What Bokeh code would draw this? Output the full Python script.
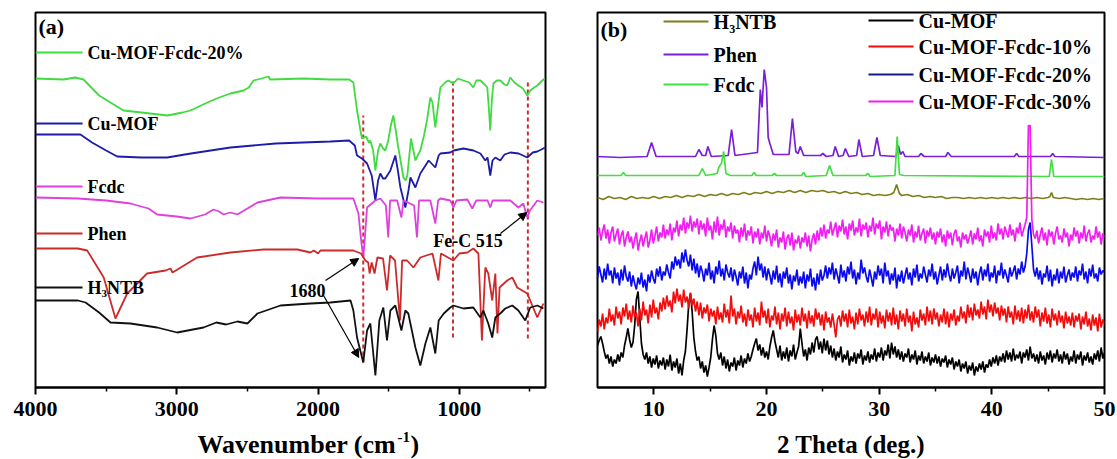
from bokeh.plotting import figure
from bokeh.layouts import row, column
from bokeh.models import Range1d, FixedTicker, Label, Arrow, NormalHead
from bokeh.embed import file_html
from bokeh.resources import INLINE

SERIF = "Liberation Serif"

# ---------------- (a) FT-IR spectra: (wavenumber cm-1, offset transmittance a.u.) ----------------
ftir_fcdc20 = [(4000, 309), (3800, 308), (3720, 310), (3660, 308), (3550, 292), (3377, 277), (3250, 275),
               (3066, 272), (2960, 275), (2903, 277), (2783, 285), (2700, 290), (2620, 294), (2528, 297),
               (2490, 300), (2457, 307), (2400, 309), (2351, 311), (2340, 308), (2100, 309), (1913, 308),
               (1780, 308), (1750, 305), (1724, 277), (1700, 257), (1689, 249), (1660, 251), (1640, 245),
               (1630, 247), (1610, 237), (1594, 217), (1575, 237), (1559, 244), (1540, 239), (1524, 237),
               (1503, 247), (1485, 262), (1467, 272), (1450, 257), (1432, 240), (1410, 222), (1396, 210),
               (1380, 207), (1368, 212), (1342, 249), (1325, 237), (1311, 227), (1295, 232), (1276, 237),
               (1250, 252), (1229, 267), (1205, 290), (1190, 285), (1170, 260), (1155, 277), (1134, 300),
               (1100, 305), (1078, 307), (1042, 304), (1010, 309), (971, 307), (930, 305), (901, 300),
               (880, 307), (851, 307), (820, 303), (802, 300), (790, 277), (781, 257), (770, 287),
               (759, 304), (735, 307), (710, 307), (680, 303), (661, 302), (639, 310), (610, 305),
               (582, 302), (550, 299), (519, 292), (498, 297), (470, 300), (448, 302), (413, 307), (395, 309)]

ftir_cumof = [(4000, 253), (3720, 253), (3682, 253), (3600, 245), (3500, 237), (3422, 231), (3250, 230),
              (3068, 230), (2900, 234), (2620, 240), (2300, 244), (1913, 246), (1780, 247), (1740, 242),
              (1724, 232), (1689, 229), (1653, 224), (1620, 212), (1594, 187), (1575, 207), (1559, 214),
              (1540, 209), (1524, 209), (1488, 217), (1453, 232), (1435, 217), (1417, 200), (1382, 180),
              (1360, 197), (1346, 210), (1311, 200), (1276, 214), (1217, 227), (1190, 223), (1170, 220),
              (1146, 232), (1134, 234), (1064, 235), (1040, 237), (971, 239), (900, 237), (851, 234),
              (816, 227), (800, 230), (781, 212), (765, 227), (745, 230), (710, 227), (680, 233),
              (639, 235), (580, 234), (519, 230), (480, 235), (448, 236), (405, 239), (395, 240)]

ftir_fcdc = [(4000, 190), (3700, 189), (3500, 187), (3328, 184), (3200, 179), (3139, 173), (3000, 171),
             (2903, 169), (2800, 173), (2740, 178), (2700, 176), (2670, 173), (2620, 175), (2571, 173),
             (2500, 179), (2429, 185), (2266, 190), (2000, 189), (1750, 189), (1714, 174), (1695, 147),
             (1680, 130), (1670, 147), (1653, 180), (1594, 187), (1559, 189), (1520, 182), (1503, 150),
             (1490, 187), (1440, 187), (1410, 170), (1395, 187), (1320, 182), (1300, 150), (1285, 187),
             (1205, 187), (1170, 164), (1150, 187), (1134, 189), (1064, 187), (1042, 180), (1020, 187),
             (943, 188), (908, 179), (880, 187), (800, 187), (781, 180), (765, 187), (639, 187),
             (582, 180), (547, 184), (519, 170), (500, 177), (484, 180), (448, 187), (405, 185)]

ftir_phen = [(4000, 139), (3700, 139), (3634, 137), (3517, 110), (3434, 69), (3351, 94), (3210, 114),
             (3080, 117), (3045, 119), (3030, 115), (2856, 130), (2620, 135), (2385, 138), (2146, 138),
             (2054, 135), (2030, 137), (2000, 134), (1983, 137), (1913, 137), (1750, 137), (1696, 134),
             (1665, 127), (1645, 125), (1635, 114), (1620, 125), (1600, 114), (1580, 130), (1540, 129),
             (1512, 97), (1490, 132), (1455, 127), (1420, 67), (1405, 127), (1370, 127), (1325, 120),
             (1276, 130), (1190, 134), (1148, 107), (1130, 134), (1080, 130), (1042, 127), (1000, 134),
             (943, 135), (901, 139), (865, 134), (840, 47), (816, 120), (795, 114), (767, 87), (745, 114),
             (730, 54), (715, 100), (661, 107), (625, 110), (590, 100), (519, 94), (448, 70), (405, 84)]

ftir_h3ntb = [(4000, 87), (3700, 87), (3646, 85), (3550, 75), (3469, 65), (3328, 64), (3139, 60),
              (2997, 55), (2811, 60), (2720, 65), (2650, 63), (2571, 66), (2500, 64), (2429, 74),
              (2266, 82), (2054, 84), (1913, 85), (1770, 87), (1750, 77), (1724, 50), (1680, 25),
              (1653, 57), (1630, 64), (1594, 12), (1566, 67), (1538, 80), (1512, 47), (1488, 77),
              (1453, 82), (1410, 57), (1382, 77), (1361, 74), (1311, 40), (1276, 22), (1240, 44),
              (1205, 60), (1170, 34), (1146, 67), (1110, 74), (1064, 80), (1042, 82), (971, 79),
              (901, 80), (851, 70), (830, 77), (795, 64), (767, 50), (745, 70), (710, 74), (675, 79),
              (625, 82), (582, 77), (533, 67), (498, 80), (448, 82), (405, 79)]

# marked bands (cm-1) and the span of each guide line
guide_wn = [1680, 1045, 515]
guide_lo = [25, 50, 49]
guide_hi = [272, 307, 305]

ftir_names = ["Cu-MOF-Fcdc-20%", "Cu-MOF", "Fcdc", "Phen", "H3NTB"]

# ---------------- (b) XRD patterns ----------------
# sharp patterns: (2theta, intensity a.u.)
xrd_phen = [(5.0, 231), (7.0, 230), (9.4, 231), (9.8, 245), (10.2, 231), (13.7, 231), (14.0, 238), (14.3, 232),
            (14.6, 232), (14.8, 241), (15.1, 231), (16.6, 232), (16.9, 258), (17.2, 232), (19.2, 235),
            (19.45, 298), (19.6, 280), (19.8, 318), (20.0, 300), (20.15, 250), (20.3, 244), (20.6, 233),
            (22.0, 233), (22.3, 269), (22.6, 236), (22.8, 234), (23.0, 241), (23.3, 232), (24.8, 232),
            (25.0, 234), (25.3, 231), (25.9, 232), (26.1, 241), (26.4, 231), (26.8, 232), (27.0, 239),
            (27.3, 231), (28.0, 232), (28.2, 248), (28.5, 231), (29.5, 232), (29.8, 250), (30.1, 232),
            (31.5, 231), (31.7, 242), (31.9, 233), (32.1, 236), (32.3, 231), (33.5, 231), (33.7, 234),
            (34.0, 231), (35.9, 231), (36.1, 235), (36.4, 231), (42.0, 231), (42.2, 234), (42.4, 231),
            (45.2, 231), (45.4, 234), (45.6, 231), (50.0, 230)]

xrd_fcdc = [(5.0, 212), (7.1, 212), (7.3, 215), (7.5, 212), (14.0, 212), (14.3, 219), (14.6, 212), (15.6, 214),
            (15.8, 221), (16.0, 224), (16.2, 236), (16.4, 214), (16.8, 212), (18.7, 212), (18.9, 215),
            (19.1, 212), (20.5, 212), (20.7, 214), (20.9, 212), (23.1, 212), (23.3, 215), (23.5, 211),
            (25.3, 212), (25.6, 222), (25.9, 212), (28.8, 212), (29.0, 214), (29.2, 211), (31.4, 212),
            (31.6, 251), (31.8, 213), (32.2, 212), (45.1, 211), (45.3, 228), (45.5, 211), (50.0, 211)]

xrd_h3ntb = [(5.0, 190), (5.5, 188), (6.0, 191), (6.5, 189), (7.0, 190), (7.5, 188), (8.0, 191), (8.5, 189),
             (9.0, 190), (9.5, 189), (10.0, 191), (10.5, 189), (11.0, 191), (11.5, 190), (12.0, 192),
             (12.5, 190), (13.0, 192), (13.5, 191), (14.0, 193), (14.5, 191), (15.0, 193), (15.5, 192),
             (16.0, 194), (16.5, 192), (17.0, 194), (17.5, 193), (18.0, 195), (18.5, 193), (19.0, 195),
             (19.5, 194), (20.0, 196), (20.5, 194), (21.0, 196), (21.5, 195), (22.0, 197), (22.5, 195),
             (23.0, 197), (23.5, 195), (24.0, 197), (24.5, 196), (25.0, 197), (25.5, 195), (26.0, 196),
             (26.5, 194), (27.0, 196), (27.5, 194), (28.0, 195), (28.5, 193), (29.0, 194), (29.5, 192),
             (30.0, 193), (30.5, 192), (31.0, 193), (31.3, 195), (31.55, 203), (31.8, 194), (32.0, 192),
             (32.5, 193), (33.0, 191), (33.5, 192), (34.0, 190), (34.5, 191), (35.0, 190), (35.5, 191),
             (36.0, 189), (36.5, 190), (37.0, 190), (37.5, 189), (38.0, 190), (38.5, 189), (39.0, 190),
             (39.5, 189), (40.0, 190), (40.5, 189), (41.0, 190), (41.5, 189), (42.0, 190), (42.5, 189),
             (43.0, 190), (43.5, 189), (44.0, 190), (44.5, 189), (45.0, 190), (45.15, 191), (45.3, 195),
             (45.45, 190), (46.0, 189), (46.5, 190), (47.0, 189), (47.5, 188), (48.0, 189), (48.5, 188),
             (49.0, 189), (49.5, 188), (50.0, 189)]

# scanned patterns on a 0.15 deg grid, 5.00 to 50.00 deg (each row spans 3 deg)
xrd_start = 5.0
xrd_step = 0.15
xrd_cumof30 = [152, 160, 147, 156, 163, 149, 158, 144, 155, 161, 146, 153, 159, 143, 152, 157, 141, 150, 156, 145,
               151, 139, 148, 155, 137, 146, 153, 141, 149, 156, 140, 147, 158, 144, 152, 161, 146, 155, 150, 163,
               149, 158, 152, 164, 147, 160, 155, 167, 151, 163, 157, 170, 154, 165, 159, 172, 156, 166, 160, 169,
               153, 167, 158, 164, 151, 170, 157, 162, 148, 166, 155, 171, 152, 163, 158, 168, 150, 161, 156, 165,
               149, 162, 154, 158, 145, 160, 151, 164, 147, 157, 152, 161, 144, 156, 150, 159, 143, 155, 149, 162,
               146, 157, 151, 141, 154, 147, 158, 140, 150, 145, 156, 138, 149, 153, 142, 155, 137, 148, 144, 152,
               139, 150, 145, 155, 141, 152, 136, 148, 154, 143, 157, 147, 160, 151, 163, 149, 158, 154, 166, 152,
               159, 165, 150, 162, 156, 168, 153, 161, 148, 164, 157, 167, 152, 160, 155, 169, 151, 163, 158, 165,
               150, 162, 156, 170, 153, 164, 159, 167, 148, 161, 155, 166, 151, 163, 157, 160, 146, 159, 152, 164,
               149, 161, 155, 146, 158, 152, 163, 145, 156, 150, 162, 147, 154, 159, 144, 157, 151, 160, 148, 155,
               143, 156, 150, 159, 145, 153, 141, 157, 149, 155, 142, 154, 158, 146, 151, 140, 155, 148, 153, 144,
               150, 157, 143, 154, 148, 160, 146, 152, 141, 158, 151, 156, 145, 162, 149, 155, 147, 164, 153, 159,
               148, 161, 155, 150, 163, 152, 158, 146, 160, 154, 165, 151, 157, 163, 170, 262, 262, 168, 153, 149,
               157, 144, 153, 160, 147, 155, 142, 158, 151, 156, 143, 154, 161, 148, 152, 145, 159, 150, 155, 141,
               153, 147, 160, 151, 157, 144, 155, 149, 162, 146, 154, 158, 145, 152, 148, 161, 150, 156, 143, 154,
               150]

xrd_cumof20 = [110, 121, 113, 105, 119, 108, 124, 112, 117, 104, 120, 109, 115, 102, 118, 107, 122, 111, 106, 116,
               101, 112, 104, 98, 110, 103, 115, 100, 108, 96, 113, 105, 117, 109, 104, 119, 111, 121, 107, 116,
               112, 123, 115, 109, 126, 118, 131, 122, 128, 119, 135, 125, 138, 127, 121, 133, 117, 129, 114, 124,
               110, 122, 116, 106, 119, 112, 125, 108, 117, 104, 121, 113, 127, 111, 119, 107, 123, 115, 110, 120,
               106, 118, 111, 102, 116, 109, 121, 104, 115, 99, 113, 108, 119, 126, 112, 131, 117, 124, 110, 121,
               107, 119, 112, 103, 117, 108, 122, 105, 114, 100, 116, 109, 120, 104, 113, 98, 112, 106, 118, 102,
               111, 104, 116, 99, 113, 106, 119, 101, 110, 97, 114, 103, 118, 107, 112, 122, 109, 120, 113, 125,
               108, 119, 112, 104, 123, 110, 117, 106, 121, 113, 126, 109, 118, 103, 115, 108, 128, 114, 120, 111,
               105, 118, 110, 101, 116, 108, 122, 112, 119, 104, 125, 111, 117, 103, 114, 107, 120, 99, 113, 106,
               117, 104, 112, 120, 108, 115, 102, 119, 110, 123, 106, 114, 109, 121, 113, 105, 118, 111, 124, 108,
               116, 103, 112, 121, 107, 118, 110, 124, 113, 106, 119, 109, 115, 122, 104, 117, 111, 126, 108, 120,
               113, 105, 119, 109, 116, 102, 114, 121, 107, 118, 111, 124, 106, 115, 110, 122, 104, 117, 112, 125,
               109, 118, 112, 105, 120, 111, 116, 122, 108, 119, 113, 126, 115, 121, 134, 158, 165, 142, 118, 111,
               120, 108, 117, 103, 114, 110, 122, 106, 118, 101, 113, 107, 119, 104, 116, 109, 121, 105, 112, 118,
               107, 115, 110, 121, 106, 117, 112, 124, 108, 116, 104, 119, 111, 123, 109, 114, 106, 120, 113, 117,
               115]

xrd_cumof10 = [56, 68, 61, 74, 58, 70, 64, 79, 66, 73, 62, 81, 69, 76, 63, 80, 71, 84, 68, 77,
               65, 82, 70, 75, 61, 79, 67, 86, 72, 78, 64, 83, 70, 88, 74, 80, 68, 85, 76, 90,
               78, 92, 81, 87, 75, 96, 84, 99, 86, 93, 80, 98, 85, 91, 79, 95, 82, 89, 76, 86,
               72, 85, 69, 80, 74, 83, 66, 79, 71, 77, 63, 81, 68, 75, 65, 84, 70, 78, 64, 92,
               71, 79, 63, 76, 69, 82, 65, 74, 61, 78, 67, 73, 60, 80, 66, 75, 62, 86, 70, 77,
               64, 79, 60, 72, 67, 81, 63, 75, 58, 74, 66, 80, 61, 76, 64, 71, 57, 78, 65, 73,
               62, 80, 66, 74, 59, 77, 64, 72, 61, 79, 68, 75, 62, 73, 57, 76, 65, 70, 60, 74,
               63, 50, 68, 72, 61, 77, 66, 74, 60, 78, 64, 71, 58, 75, 63, 79, 67, 73, 61, 76,
               65, 81, 62, 74, 68, 79, 60, 76, 64, 72, 59, 78, 66, 75, 62, 80, 63, 73, 58, 77,
               66, 74, 61, 79, 65, 72, 56, 76, 63, 70, 60, 78, 67, 74, 62, 81, 66, 77, 63, 79,
               68, 75, 61, 73, 65, 79, 63, 76, 60, 74, 67, 78, 62, 72, 66, 81, 69, 76, 64, 83,
               70, 80, 67, 84, 72, 78, 69, 86, 73, 81, 68, 88, 75, 83, 71, 85, 74, 80, 67, 82,
               72, 79, 65, 81, 70, 76, 63, 82, 68, 77, 66, 80, 64, 78, 69, 83, 67, 76, 65, 81,
               70, 78, 61, 75, 66, 80, 64, 73, 60, 79, 67, 74, 62, 77, 65, 72, 59, 76, 64, 71,
               62, 75, 60, 72, 66, 74, 58, 71, 63, 76, 61, 69, 57, 73, 62, 70, 56, 74, 60, 68,
               64]

xrd_cumof = [42, 47, 51, 44, 36, 29, 33, 24, 31, 21, 28, 24, 33, 26, 35, 30, 42, 50, 59, 48,
             40, 45, 62, 88, 96, 70, 44, 33, 28, 35, 24, 31, 20, 29, 23, 32, 19, 27, 22, 30,
             18, 28, 21, 33, 17, 26, 20, 29, 14, 24, 12, 27, 36, 58, 84, 94, 76, 50, 36, 27,
             31, 19, 26, 15, 22, 11, 20, 30, 48, 62, 52, 34, 28, 35, 22, 31, 19, 28, 16, 25,
             21, 30, 17, 27, 22, 32, 20, 29, 24, 34, 26, 31, 38, 44, 49, 37, 43, 32, 40, 30,
             36, 28, 41, 50, 57, 46, 38, 30, 42, 27, 36, 29, 40, 26, 37, 31, 43, 28, 35, 41,
             59, 44, 31, 38, 27, 40, 33, 45, 35, 48, 51, 38, 46, 34, 49, 37, 47, 33, 42, 30,
             39, 27, 36, 30, 41, 25, 33, 28, 37, 22, 31, 26, 35, 24, 34, 29, 38, 23, 32, 27,
             36, 25, 33, 28, 39, 26, 35, 30, 40, 27, 37, 32, 43, 29, 45, 33, 41, 30, 38, 28,
             36, 26, 34, 30, 39, 25, 33, 28, 37, 23, 32, 27, 36, 24, 31, 26, 35, 22, 30, 25,
             33, 24, 31, 21, 29, 25, 32, 20, 28, 23, 30, 18, 26, 21, 28, 16, 24, 19, 26, 14,
             22, 17, 25, 12, 21, 16, 24, 18, 26, 15, 23, 20, 28, 21, 30, 24, 32, 22, 31, 26,
             34, 25, 37, 28, 35, 26, 39, 27, 33, 29, 36, 24, 35, 30, 38, 27, 41, 29, 34, 26,
             33, 24, 36, 27, 32, 23, 35, 28, 37, 25, 34, 29, 38, 26, 33, 24, 36, 28, 34, 23,
             31, 26, 37, 24, 33, 28, 36, 22, 32, 27, 35, 25, 31, 23, 34, 28, 37, 26, 40, 29,
             35]

xrd_left_names = ["H3NTB", "Phen", "Fcdc"]
xrd_right_names = ["Cu-MOF", "Cu-MOF-Fcdc-10%", "Cu-MOF-Fcdc-20%", "Cu-MOF-Fcdc-30%"]


def unzip(pairs):
    return [a for a, _ in pairs], [b for _, b in pairs]


def style_frame(p):
    p.yaxis.visible = False
    p.xgrid.visible = False
    p.ygrid.visible = False
    p.outline_line_color = "black"
    p.outline_line_width = 2
    p.outline_line_alpha = 1.0
    p.background_fill_color = "white"
    p.border_fill_color = "white"
    ax = p.xaxis[0]
    ax.axis_line_width = 2
    ax.axis_line_color = "black"
    ax.major_tick_line_width = 2
    ax.minor_tick_line_width = 1.5
    ax.major_tick_in = 0
    ax.major_tick_out = 7
    ax.minor_tick_in = 0
    ax.minor_tick_out = 4
    ax.major_label_text_font = SERIF
    ax.major_label_text_font_style = "bold"
    ax.major_label_text_font_size = "22px"
    ax.major_label_text_color = "black"
    ax.major_label_standoff = 7


def title_strip(width, x_range, left, right):
    s = figure(width=width, height=STRIP_H, x_range=x_range, y_range=Range1d(0, STRIP_H),
               output_backend="svg", toolbar_location=None,
               min_border_left=left, min_border_right=right, min_border_top=0, min_border_bottom=0)
    s.axis.visible = False
    s.grid.visible = False
    s.outline_line_color = None
    s.background_fill_color = "white"
    s.border_fill_color = "white"
    return s


def text(p, x, y, s, size, dx=0, dy=0, align="left"):
    p.add_layout(Label(x=x, y=y, x_offset=dx, y_offset=dy, text=s, text_font=SERIF,
                       text_font_style="bold", text_font_size=size, text_color="black",
                       text_align=align, text_baseline="middle"))


def sub_label(p, x, y, size, sub_size, w_h, w_sub, dy_sub):
    # "H3NTB" with the 3 set as a subscript
    text(p, x, y, "H", size)
    text(p, x, y, "3", sub_size, dx=w_h, dy=dy_sub)
    text(p, x, y, "NTB", size, dx=w_h + w_sub)


PLOT_H = 426
STRIP_H = 33

# ============ panel (a) ============
pa = figure(width=560, height=PLOT_H, x_range=Range1d(4000, 390), y_range=Range1d(0, 375),
            output_backend="svg", toolbar_location=None,
            min_border_left=35, min_border_right=15, min_border_top=12, min_border_bottom=PLOT_H - 387)
style_frame(pa)
pa.xaxis.ticker = FixedTicker(ticks=[4000, 3000, 2000, 1000], minor_ticks=[3500, 2500, 1500, 500])

for wn, lo, hi in zip(guide_wn, guide_lo, guide_hi):
    pa.line([wn, wn], [lo, hi], line_color="#CC2E2E", line_width=2, line_dash="4 3")

ftir_series = [ftir_fcdc20, ftir_cumof, ftir_fcdc, ftir_phen, ftir_h3ntb]
ftir_colors = ["#3FDB3F", "#1C1CA8", "#DD40DD", "#CC2B2B", "#111111"]
for data, col in zip(ftir_series, ftir_colors):
    xs, ys = unzip(data)
    pa.line(xs, ys, line_color=col, line_width=1.8)

# in-plot key: each line runs from the frame edge, its name right after it
key_a_y = [335, 264, 201, 154, 100]
for name, col, ky in zip(ftir_names, ftir_colors, key_a_y):
    pa.line([4000, 3667], [ky, ky], line_color=col, line_width=2)
    if name == "H3NTB":
        sub_label(pa, 3632, ky, "18px", "11px", 14, 5.5, -6)
    else:
        text(pa, 3632, ky, name, "18px")

text(pa, 3979, 361, "(a)", "22px")
text(pa, 2075, 97, "1680", "18px", align="center")
text(pa, 939, 147, "Fe-C 515", "18px", align="center")
head = dict(size=8, fill_color="black", line_color="black")
pa.add_layout(Arrow(end=NormalHead(**head), x_start=1947, y_start=107, x_end=1712, y_end=129,
                    line_width=1.2, line_color="black"))
pa.add_layout(Arrow(end=NormalHead(**head), x_start=1961, y_start=92, x_end=1712, y_end=30,
                    line_width=1.2, line_color="black"))
pa.add_layout(Arrow(end=NormalHead(**head), x_start=709, y_start=154, x_end=522, y_end=175,
                    line_width=1.2, line_color="black"))

ta = title_strip(560, pa.x_range, 35, 15)
mid_a = 2195
text(ta, mid_a, 15, "Wavenumber (cm", "26px", dx=-93)
text(ta, mid_a, 15, "-1", "15px", dx=107, dy=8)
text(ta, mid_a, 15, ")", "26px", dx=120)

# ============ panel (b) ============
pb = figure(width=557, height=PLOT_H, x_range=Range1d(5, 50), y_range=Range1d(0, 375),
            output_backend="svg", toolbar_location=None,
            min_border_left=37, min_border_right=13, min_border_top=12, min_border_bottom=PLOT_H - 387)
style_frame(pb)
pb.xaxis.ticker = FixedTicker(ticks=[10, 20, 30, 40, 50], minor_ticks=[15, 25, 35, 45])

angles = [round(xrd_start + xrd_step * i, 2) for i in range(len(xrd_cumof))]

left_series = [xrd_h3ntb, xrd_phen, xrd_fcdc]
left_colors = ["#7F7F1A", "#7A1FD6", "#44DD44"]
for data, col in zip(left_series, left_colors):
    xs, ys = unzip(data)
    pb.line(xs, ys, line_color=col, line_width=1.7)

right_series = [xrd_cumof, xrd_cumof10, xrd_cumof20, xrd_cumof30]
right_colors = ["#000000", "#F20D0D", "#0A0AEE", "#F01EF0"]
for ys, col in zip(right_series, right_colors):
    pb.line(angles, ys, line_color=col, line_width=1.7)

key_left_y = [366, 333, 303]
for name, col, ky in zip(xrd_left_names, left_colors, key_left_y):
    pb.line([10.86, 14.85], [ky, ky], line_color=col, line_width=2)
    if name == "H3NTB":
        sub_label(pb, 15.3, ky, "20px", "12px", 15.6, 6, -7)
    else:
        text(pb, 15.3, ky, name, "20px")

key_right_colors = ["#000000", "#F20D0D", "#16168F", "#F01EF0"]
key_right_y = [367, 341, 313, 286]
for name, col, ky in zip(xrd_right_names, key_right_colors, key_right_y):
    pb.line([29.05, 33.05], [ky, ky], line_color=col, line_width=2)
    text(pb, 33.5, ky, name, "20px")

text(pb, 5.27, 358, "(b)", "22px")

tb = title_strip(557, pb.x_range, 37, 13)
text(tb, 27.5, 15, "2 Theta (deg.)", "25px", align="center")

layout = column(row(pa, pb), row(ta, tb))
open("out.html", "w").write(file_html(layout, INLINE))
